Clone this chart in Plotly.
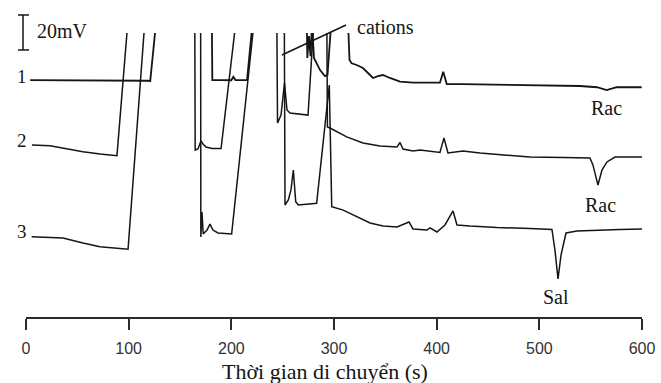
import plotly.graph_objects as go

# ---- data (time in s, signal in mV incl. trace offset; 170 = off-scale) ----
t1 = [4, 60, 100, 118, 121, 127, 181, 181.5, 190, 200, 202, 204, 210, 215.3, 221,
      273.5, 274, 275.6, 277.1, 278.6, 280.5, 282.5, 286.4, 291.2, 293.7, 297.5,
      313.6, 315.1, 317.2, 322.1, 328.2, 335.1, 338, 342.8, 347.7, 354.5, 364.3,
      376.9, 403.2, 406.4, 409.8, 425.6, 474.3, 507.5, 539.6, 556.2, 565.6, 575.3, 599.7]
y1 = [135.4, 135.4, 135.3, 135.0, 134.9, 170, 170, 135.4, 135.4, 135.3, 137.3, 135.4, 135.4, 135.4, 170,
      170, 148, 160.6, 149.1, 168, 148, 145.7, 141.1, 137.7, 138.3, 170,
      170, 146.9, 145, 144, 142.3, 138.3, 136.6, 137.7, 138.3, 136.6, 134.5,
      133.9, 133.9, 140.2, 133.1, 133.1, 132.6, 132.6, 132, 131.3, 129.7, 131.3, 131.3]

t2 = [5.8, 23.4, 55.5, 72.1, 88.6, 99.4, 164.4, 164.8, 167.5, 170.4, 172.4, 175.3, 181.2, 190, 204.7,
      244.3, 245, 248.4, 251.8, 254.2, 257.1, 266.9, 274.7, 280.5, 293, 293.6, 296.1, 312.4,
      328.2, 344.8, 361.3, 364.3, 367.2, 377, 383.8, 403.2, 407.1, 411, 425.6, 442.2, 458.7,
      490.9, 523, 549.3, 552.2, 557.1, 561, 565.9, 573.7, 588.3, 600]
y2 = [98.3, 97.9, 94.5, 93.1, 92.2, 170, 170, 95.4, 96, 100.6, 98.9, 97.1, 96.3, 96.3, 170,
      170, 110.9, 115.4, 133.7, 118.3, 116.6, 116, 115.4, 170, 170, 108.6, 108, 102.9,
      99.4, 97.7, 97.1, 99.7, 96, 94.9, 95.4, 94, 102.3, 93.7, 94.9, 93.7, 92.9,
      91.4, 91.1, 90.9, 86.9, 75.4, 84, 88.6, 91.4, 91.4, 91.4]

t3 = [5.5, 36, 55.5, 72, 99.4, 115.9, 170.1, 170.3, 171.4, 172.6, 176.3, 179.2, 182.1, 187, 200.3, 222.4,
      251.6, 252.3, 255.5, 258.1, 260.4, 262.7, 265.2, 273.4, 283.1, 295.4, 297.8, 309, 322.4,
      335.1, 347.7, 361.4, 373.1, 376.9, 390.6, 393.5, 400.3, 408.1, 415.9, 419.8, 432.4, 458.7,
      490.9, 512.3, 515.2, 518.2, 521.1, 526, 536.7, 556.2, 578.6, 600]
y3 = [45.9, 45.1, 42.3, 40.2, 38.7, 170, 170, 45.7, 60, 47.4, 49.7, 53.1, 49.7, 48, 47.4, 170,
      170, 64, 66.9, 72.6, 84, 65.9, 64, 64.6, 65, 132.6, 63, 61.1, 57.1,
      53.7, 52, 51.4, 54.3, 50.3, 49.7, 50.9, 48.6, 52.6, 60.6, 52.6, 52, 51.1,
      50.6, 50, 38.3, 21.7, 35.4, 48, 49.1, 49.7, 50, 50.3]

x_ticks = [0, 100, 200, 300, 400, 500, 600]
X_MAX = 600
Y_MAX = 162.3

SERIF = "Liberation Serif"
INK = "#151515"

fig = go.Figure()
for tt, yy, w in [(t1, y1, 1.8), (t2, y2, 1.5), (t3, y3, 1.5)]:
    fig.add_trace(go.Scatter(x=tt, y=yy, mode="lines",
                             line=dict(color=INK, width=w), hoverinfo="skip"))


def px(t):
    return t / X_MAX


def py(v):
    return v / Y_MAX


shapes = [
    # 20 mV scale bar
    dict(type="line", xref="paper", yref="paper", x0=px(-2.9), x1=px(-2.9), y0=py(152.6), y1=py(172.6)),
    dict(type="line", xref="paper", yref="paper", x0=px(-7.8), x1=px(2.9), y0=py(172.6), y1=py(172.6)),
    dict(type="line", xref="paper", yref="paper", x0=px(-7.8), x1=px(2.9), y0=py(152.6), y1=py(152.6)),
    # cations leader line
    dict(type="line", xref="paper", yref="paper", x0=px(249.3), x1=px(311.7), y0=py(149.7), y1=py(166.9)),
]
for s in shapes:
    s["line"] = dict(color=INK, width=1.5)

ann = [
    ("20mV", 35.1, 163.4, 20),
    ("1", -3.9, 137.7, 19),
    ("2", -3.9, 100.6, 19),
    ("3", -3.9, 48.6, 19),
    ("cations", 350.6, 165.7, 20),
    ("Rac", 565, 119.4, 20),
    ("Rac", 559.1, 64, 20),
    ("Sal", 516.2, 11.4, 20),
    ("Thời gian di chuyển (s)", 291.7, -31.4, 22),
]
annotations = [dict(text=t, x=px(x), y=py(y), xref="paper", yref="paper", showarrow=False,
                    xanchor="center", yanchor="middle",
                    font=dict(family=SERIF, size=s, color=INK)) for t, x, y, s in ann]

fig.update_layout(
    width=661, height=383,
    margin=dict(l=26, r=19, t=33, b=66, autoexpand=False),
    paper_bgcolor="white", plot_bgcolor="white",
    showlegend=False,
    shapes=shapes,
    annotations=annotations,
    xaxis=dict(range=[0, X_MAX], tickvals=x_ticks, ticktext=[str(v) for v in x_ticks],
               showline=True, linecolor="#2b2b2b", linewidth=1.5,
               ticks="outside", ticklen=11, tickwidth=1.5, tickcolor="#2b2b2b",
               tickfont=dict(family="Liberation Sans", size=16, color="#333333"),
               ticklabelstandoff=5, automargin=False,
               showgrid=False, zeroline=False, fixedrange=True),
    yaxis=dict(range=[0, Y_MAX], visible=False, showgrid=False, zeroline=False,
               fixedrange=True, automargin=False),
)

fig.write_html("out.html", config={"displayModeBar": False},
               post_script="document.body.style.margin='0';document.body.style.overflow='hidden';")
